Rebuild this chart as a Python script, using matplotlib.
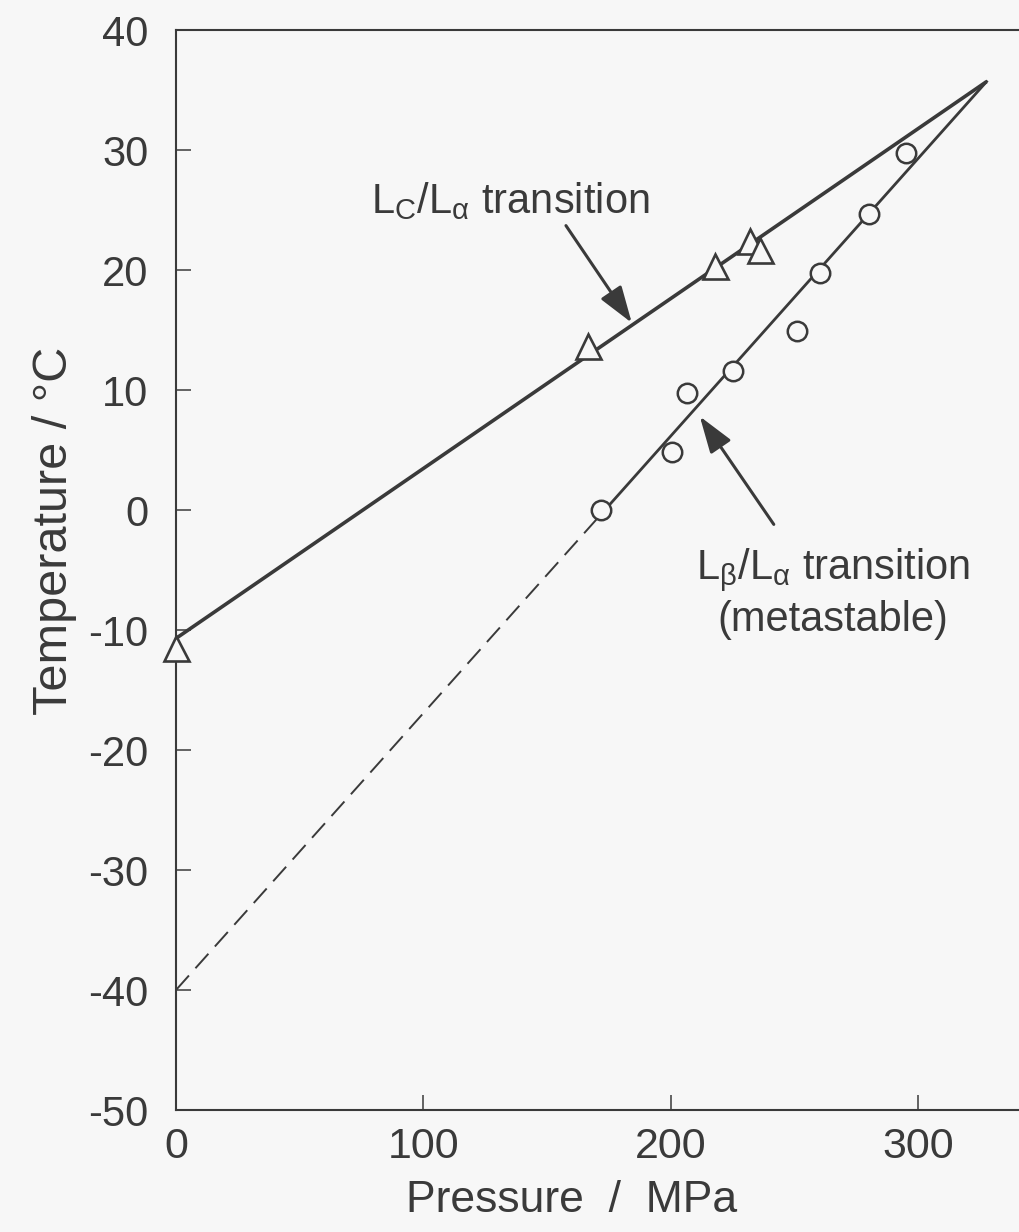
import matplotlib
matplotlib.use("Agg")
import matplotlib.pyplot as plt

plt.rcParams['font.family'] = ['Liberation Sans', 'DejaVu Sans']
plt.rcParams['mathtext.fontset'] = 'custom'
plt.rcParams['mathtext.rm'] = 'Liberation Sans'
plt.rcParams['mathtext.it'] = 'Liberation Sans:italic'
plt.rcParams['axes.unicode_minus'] = False

# Lc/La transition points (pressure MPa, temperature C)
lc_p = [0, 166.5, 218, 232, 236]
lc_t = [-11.5, 13.7, 20.3, 22.4, 21.7]

# Lb/La transition points
lb_p = [171.6, 200.3, 206.5, 225, 250.8, 260.2, 280, 295.2]
lb_t = [0.0, 4.8, 9.75, 11.6, 14.9, 19.75, 24.7, 29.75]

# fitted lines, both meet at the top right
lc_fit_p = [0, 327.6]
lc_fit_t = [-10.7, 35.7]
lb_fit_p = [171.6, 327.6]
lb_fit_t = [-0.4, 35.7]
lb_extra_p = [0, 171.6]
lb_extra_t = [-40, -0.4]

xticks = [0, 100, 200, 300]
yticks = [40, 30, 20, 10, 0, -10, -20, -30, -40, -50]

ink = '#3a3a3a'
bg = '#f7f7f7'

fig = plt.figure(figsize=(10.19, 12.32), dpi=100, facecolor=bg)
ax = fig.add_axes([176 / 1019, 122 / 1232, 866 / 1019, 1080 / 1232])
ax.set_facecolor(bg)

ax.plot(lc_fit_p, lc_fit_t, color=ink, lw=2.6, solid_capstyle='butt')
ax.plot(lb_fit_p, lb_fit_t, color=ink, lw=2.0)
ax.plot(lb_extra_p, lb_extra_t, color=ink, lw=1.4, dashes=(10, 5))

ax.plot(lc_p, lc_t, ls='none', marker='^', ms=18, mfc=bg, mec=ink, mew=1.9,
        clip_on=False, zorder=5)
ax.plot(lb_p, lb_t, ls='none', marker='o', ms=14, mfc=bg, mec=ink, mew=1.8,
        zorder=5)

ax.set_xlim(0, 350)
ax.set_ylim(-50, 40)
ax.set_xticks(xticks)
ax.set_yticks(yticks)
ax.tick_params(direction='in', length=11, width=1.1, color=ink,
               labelcolor=ink)
ax.tick_params(axis='x', labelsize=31, pad=12)
ax.tick_params(axis='y', labelsize=30, pad=20)
for s in ax.spines.values():
    s.set_linewidth(1.5)
    s.set_color(ink)

# labels
ax.text(135, 24.75, r'L$_\mathregular{C}$/L$_\mathrm{\alpha}$ transition',
        fontsize=30, color=ink, ha='center', va='baseline')
ax.text(265.5, -10.1, r'L$_\mathrm{\beta}$/L$_\mathrm{\alpha}$ transition'
        '\n(metastable)', fontsize=30, color=ink, ha='center',
        va='baseline', multialignment='center', linespacing=1.2)

arrow = dict(arrowstyle='-|>,head_length=1.25,head_width=0.42',
             mutation_scale=18, lw=2.2, color=ink, shrinkA=0, shrinkB=0)
ax.annotate('', xy=(184.2, 15.6), xytext=(157.6, 23.7), arrowprops=arrow)
ax.annotate('', xy=(211.7, 7.8), xytext=(241.6, -1.2), arrowprops=arrow)

fig.text(572 / 1019, 1 - 1200 / 1232, 'Pressure  /  MPa', fontsize=32,
         color=ink, ha='center', va='center')
fig.text(55 / 1019, 1 - 531 / 1232, 'Temperature / \u00b0C', fontsize=35,
         color=ink, ha='center', va='center', rotation=90)

fig.savefig('out.png', dpi=100, facecolor=bg)
